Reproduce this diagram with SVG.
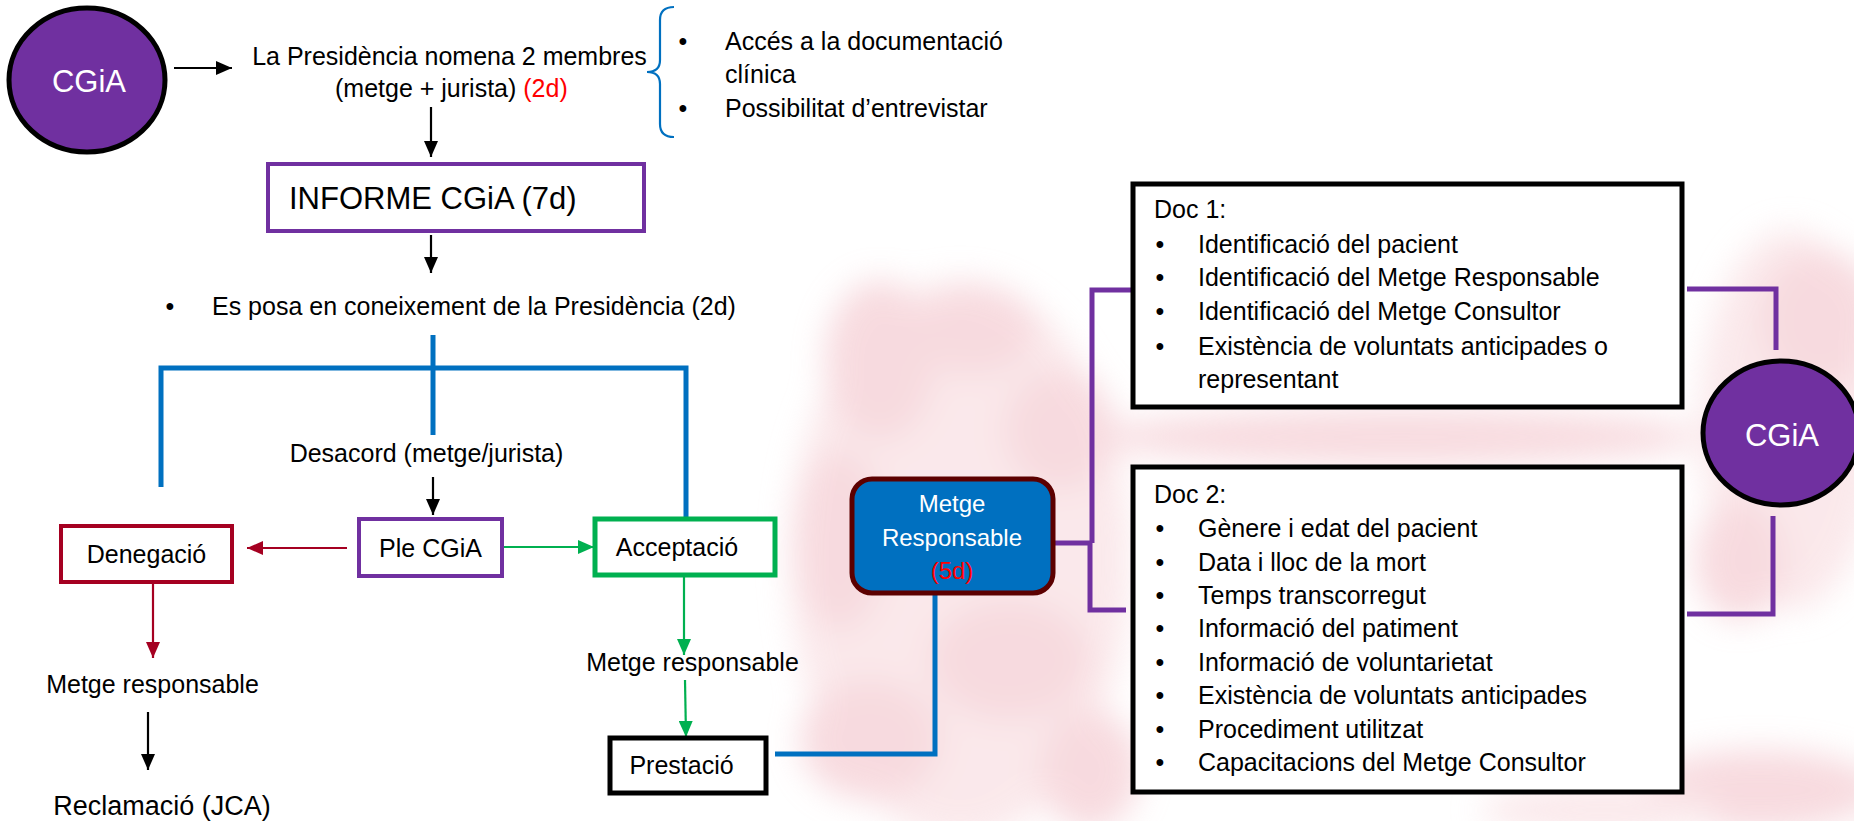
<svg xmlns="http://www.w3.org/2000/svg" width="1854" height="821" viewBox="0 0 1854 821">
<style>
text{font-family:"Liberation Sans",Arial,sans-serif;font-size:25px;fill:#000}
.red{fill:#FF0000}
.wt{fill:#FFFFFF}
.circ{font-size:31px;fill:#FFFFFF}
.big{font-size:31px}
.rec{font-size:27px}
.mr{font-size:24px}
.box{fill:#FFFFFF}
.conn{fill:none;stroke-width:2.2}
.blue{fill:none;stroke:#0070C0;stroke-width:5}
.purp{fill:none;stroke:#7030A0;stroke-width:5}
.pk{fill:#F3C3CA}
.pl{fill:#F8DADE}
</style>
<defs>
<marker id="ab" markerUnits="userSpaceOnUse" markerWidth="16" markerHeight="14" refX="16" refY="7" orient="auto"><path d="M0,0 L16,7 L0,14 z" fill="#000"/></marker>
<marker id="ar" markerUnits="userSpaceOnUse" markerWidth="16" markerHeight="14" refX="16" refY="7" orient="auto"><path d="M0,0 L16,7 L0,14 z" fill="#A50021"/></marker>
<marker id="ag" markerUnits="userSpaceOnUse" markerWidth="16" markerHeight="14" refX="16" refY="7" orient="auto"><path d="M0,0 L16,7 L0,14 z" fill="#00B050"/></marker>
<filter id="blur" x="-10%" y="-10%" width="120%" height="120%"><feGaussianBlur stdDeviation="16"/></filter>
</defs>
<rect width="1854" height="821" fill="#FFFFFF"/>
<g id="background" filter="url(#blur)" opacity="0.6">
<ellipse class="pl" cx="960" cy="560" rx="170" ry="280"/>
<ellipse class="pk" cx="880" cy="360" rx="55" ry="80"/>
<ellipse class="pk" cx="975" cy="330" rx="60" ry="45"/>
<ellipse class="pk" cx="1060" cy="430" rx="55" ry="60"/>
<ellipse class="pk" cx="840" cy="540" rx="45" ry="90"/>
<ellipse class="pk" cx="1010" cy="660" rx="80" ry="60"/>
<ellipse class="pk" cx="870" cy="740" rx="70" ry="60"/>
<ellipse class="pk" cx="1090" cy="770" rx="50" ry="60"/>
<ellipse class="pk" cx="1400" cy="437" rx="300" ry="28"/>
<ellipse class="pl" cx="1790" cy="420" rx="90" ry="190"/>
<ellipse class="pk" cx="1820" cy="320" rx="60" ry="70"/>
<ellipse class="pk" cx="1740" cy="560" rx="45" ry="60"/>
<ellipse class="pk" cx="1760" cy="790" rx="120" ry="40"/>
<ellipse class="pl" cx="1600" cy="810" rx="120" ry="25"/>
</g>
<g id="connectors">
<line class="conn" x1="174" y1="68" x2="232" y2="68" stroke="#000" marker-end="url(#ab)"/>
<line class="conn" x1="431" y1="107" x2="431" y2="157" stroke="#000" marker-end="url(#ab)"/>
<line class="conn" x1="431" y1="235" x2="431" y2="273" stroke="#000" marker-end="url(#ab)"/>
<path class="conn" d="M674,7 Q660,7 660,20 L660,60 Q660,72 647,72 Q660,72 660,84 L660,124 Q660,137 674,137" stroke="#0070C0" stroke-width="2"/>
<path class="blue" d="M433,335 L433,435"/>
<path class="blue" d="M161,487 L161,368 L686,368 L686,518"/>
<line class="conn" x1="433" y1="477" x2="433" y2="515" stroke="#000" marker-end="url(#ab)"/>
<line class="conn" x1="347" y1="548" x2="247" y2="548" stroke="#A50021" stroke-width="3" marker-end="url(#ar)"/>
<line class="conn" x1="502" y1="547" x2="594" y2="547" stroke="#00B050" stroke-width="3" marker-end="url(#ag)"/>
<line class="conn" x1="153" y1="583" x2="153" y2="658" stroke="#A50021" marker-end="url(#ar)"/>
<line class="conn" x1="148" y1="712" x2="148" y2="770" stroke="#000" marker-end="url(#ab)"/>
<line class="conn" x1="684" y1="576" x2="684" y2="655" stroke="#00B050" marker-end="url(#ag)"/>
<line class="conn" x1="685" y1="680" x2="686" y2="737" stroke="#00B050" marker-end="url(#ag)"/>
<path class="blue" d="M775,754 L935,754 L935,595"/>
<path class="purp" d="M1053,543 L1092,543"/>
<path class="purp" d="M1133,290 L1092,290 L1092,543"/>
<path class="purp" d="M1090,543 L1090,610 L1126,610"/>
<path class="purp" d="M1687,289 L1776,289 L1776,350"/>
<path class="purp" d="M1773,516 L1773,614 L1687,614"/>
</g>
<g id="cgia-left">
<ellipse cx="87" cy="80" rx="78" ry="72" fill="#7030A0" stroke="#000" stroke-width="5"/>
<text x="89" y="92" text-anchor="middle" class="circ">CGiA</text>
</g>
<g id="presidencia">
<text x="449.5" y="65" text-anchor="middle">La Presidència nomena 2 membres</text>
<text x="335" y="97">(metge + jurista) <tspan class="red">(2d)</tspan></text>
</g>
<g id="facultats">
<text x="683" y="50" text-anchor="middle">•</text>
<text x="725" y="50">Accés a la documentació</text>
<text x="725" y="83">clínica</text>
<text x="683" y="117" text-anchor="middle">•</text>
<text x="725" y="117">Possibilitat d’entrevistar</text>
</g>
<g id="informe">
<rect x="268" y="164" width="376" height="67" class="box" stroke="#7030A0" stroke-width="4"/>
<text x="289" y="209" class="big">INFORME CGiA (7d)</text>
</g>
<g id="coneixement">
<text x="170" y="315" text-anchor="middle">•</text>
<text x="212" y="315">Es posa en coneixement de la Presidència (2d)</text>
</g>
<g id="desacord">
<text x="426.5" y="462" text-anchor="middle">Desacord (metge/jurista)</text>
</g>
<g id="ple">
<rect x="359" y="519" width="143" height="57" class="box" stroke="#7030A0" stroke-width="4"/>
<text x="430.5" y="557" text-anchor="middle">Ple CGiA</text>
</g>
<g id="denegacio">
<rect x="61" y="526" width="171" height="56" class="box" stroke="#A50021" stroke-width="4"/>
<text x="146.5" y="563" text-anchor="middle">Denegació</text>
</g>
<g id="acceptacio">
<rect x="595" y="519" width="180" height="56" class="box" stroke="#00B050" stroke-width="5"/>
<text x="677" y="556" text-anchor="middle">Acceptació</text>
</g>
<g id="metge-resp-left">
<text x="152.5" y="693" text-anchor="middle">Metge responsable</text>
</g>
<g id="reclamacio">
<text x="162" y="815" text-anchor="middle" class="rec">Reclamació (JCA)</text>
</g>
<g id="metge-resp-right">
<text x="692.5" y="671" text-anchor="middle">Metge responsable</text>
</g>
<g id="prestacio">
<rect x="610" y="738" width="156" height="55" class="box" stroke="#000" stroke-width="5"/>
<text x="681.5" y="774" text-anchor="middle">Prestació</text>
</g>
<g id="metge-responsable">
<rect x="852" y="479" width="201" height="114" rx="20" fill="#0070C0" stroke="#5C0000" stroke-width="5"/>
<text x="952" y="512" text-anchor="middle" class="mr wt">Metge</text>
<text x="952" y="546" text-anchor="middle" class="mr wt">Responsable</text>
<text x="952" y="579" text-anchor="middle" class="mr red">(5d)</text>
</g>
<g id="doc1">
<rect x="1133" y="184" width="549" height="223" class="box" stroke="#000" stroke-width="5"/>
<text x="1154" y="218">Doc 1:</text>
<text x="1160" y="253" text-anchor="middle">•</text><text x="1198" y="253">Identificació del pacient</text>
<text x="1160" y="286" text-anchor="middle">•</text><text x="1198" y="286">Identificació del Metge Responsable</text>
<text x="1160" y="320" text-anchor="middle">•</text><text x="1198" y="320">Identificació del Metge Consultor</text>
<text x="1160" y="355" text-anchor="middle">•</text><text x="1198" y="355">Existència de voluntats anticipades o</text>
<text x="1198" y="388">representant</text>
</g>
<g id="doc2">
<rect x="1133" y="467" width="549" height="325" class="box" stroke="#000" stroke-width="5"/>
<text x="1154" y="503">Doc 2:</text>
<text x="1160" y="537" text-anchor="middle">•</text><text x="1198" y="537">Gènere i edat del pacient</text>
<text x="1160" y="571" text-anchor="middle">•</text><text x="1198" y="571">Data i lloc de la mort</text>
<text x="1160" y="604" text-anchor="middle">•</text><text x="1198" y="604">Temps transcorregut</text>
<text x="1160" y="637" text-anchor="middle">•</text><text x="1198" y="637">Informació del patiment</text>
<text x="1160" y="671" text-anchor="middle">•</text><text x="1198" y="671">Informació de voluntarietat</text>
<text x="1160" y="704" text-anchor="middle">•</text><text x="1198" y="704">Existència de voluntats anticipades</text>
<text x="1160" y="738" text-anchor="middle">•</text><text x="1198" y="738">Procediment utilitzat</text>
<text x="1160" y="771" text-anchor="middle">•</text><text x="1198" y="771">Capacitacions del Metge Consultor</text>
</g>
<g id="cgia-right">
<ellipse cx="1781" cy="433" rx="78" ry="72" fill="#7030A0" stroke="#000" stroke-width="5"/>
<text x="1782" y="446" text-anchor="middle" class="circ">CGiA</text>
</g>
</svg>
